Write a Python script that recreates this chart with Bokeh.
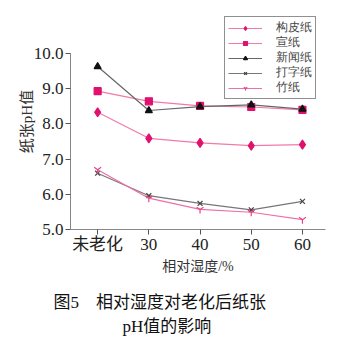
from bokeh.plotting import figure
from bokeh.models import Range1d, Legend, LegendItem, Title, FixedTicker, CustomJSTickFormatter
from bokeh.embed import file_html
from bokeh.resources import INLINE

categories = ["未老化", "30", "40", "50", "60"]
series_names = ["构皮纸", "宣纸", "新闻纸", "打字纸", "竹纸"]
gou_pi = [8.33, 7.59, 7.46, 7.38, 7.41]
xuan = [8.93, 8.64, 8.51, 8.48, 8.40]
xin_wen = [9.63, 8.38, 8.49, 8.54, 8.42]
da_zi = [6.60, 5.96, 5.74, 5.56, 5.80]
zhu = [6.70, 5.89, 5.57, 5.49, 5.28]
y_ticks = [5.0, 6.0, 7.0, 8.0, 9.0, 10.0]

xs = list(range(len(categories)))

# frame: top 13px, bottom 229px; 5.0 .. 10.0 spans 229 -> 53 px
y_top = 5.0 + (229 - 13) / ((229 - 53) / 5.0)

p = figure(width=355, height=347, output_backend="svg", toolbar_location=None,
           x_range=Range1d(-0.53, 4.45), y_range=Range1d(5.0, y_top),
           min_border_left=70, min_border_right=30, min_border_top=13,
           min_border_bottom=118, background_fill_color="white",
           border_fill_color="white", outline_line_color=None)
p.grid.visible = False

styles = [
    (gou_pi, "diamond", "#e0126e", "#f07aaa", 9),
    (xuan, "square", "#e0126e", "#f07aaa", 7),
    (xin_wen, "triangle", "#111111", "#666666", 7),
    (da_zi, "x", "#444444", "#777777", 7),
    (zhu, "y", "#e8408a", "#ee70a8", 8),
]
items = []
for name, (vals, mk, mc, lc, sz) in zip(series_names, styles):
    r1 = p.line(xs, vals, line_color=lc, line_width=1.2)
    r2 = p.scatter(xs, vals, marker=mk, size=sz, fill_color=mc, line_color=mc, line_width=1.2)
    items.append(LegendItem(label=name, renderers=[r1, r2]))

legend = Legend(items=items, location=(154, 130), border_line_color="#222222",
                border_line_width=1.5, background_fill_color="white",
                label_text_font="Liberation Serif", label_text_font_size="11.5px",
                glyph_width=34, glyph_height=10, label_height=10, spacing=0, padding=3,
                margin=0, label_standoff=14, label_text_line_height=1.0)
p.add_layout(legend, "center")

p.xaxis.ticker = FixedTicker(ticks=xs)
p.xaxis.formatter = CustomJSTickFormatter(args=dict(labels=categories),
                                          code="return labels[Math.round(tick)] || '';")
p.yaxis.ticker = FixedTicker(ticks=y_ticks)
p.yaxis.formatter = CustomJSTickFormatter(code="return tick.toFixed(1);")
p.yaxis.bounds = (5.0, 10.0)

for ax in (p.xaxis[0], p.yaxis[0]):
    ax.axis_line_color = "#888888"
    ax.major_tick_line_color = "#555555"
    ax.minor_tick_line_color = None
    ax.major_tick_out = 5
    ax.major_tick_in = 0
    ax.major_label_text_font = "Liberation Serif, Noto Sans CJK SC"
    ax.major_label_text_font_size = "17px"
    ax.major_label_text_color = "#222222"
    ax.axis_label_text_font = "Liberation Serif, Noto Sans CJK SC"
    ax.axis_label_text_font_style = "normal"
    ax.axis_label_text_color = "#333333"

p.yaxis.axis_label = "纸张pH值"
p.yaxis.axis_label_text_font_size = "15px"
p.yaxis.axis_label_standoff = -4
p.yaxis.major_label_standoff = 2
p.xaxis.axis_label = "相对湿度/%"
p.xaxis.axis_label_text_font_size = "14px"
p.xaxis.axis_label_standoff = 2
p.xaxis.major_label_standoff = 0

cap_font = "Liberation Serif, Noto Sans CJK SC"
spacer = Title(text=" ", text_font_size="1px", standoff=10)
t1 = Title(text="图5　相对湿度对老化后纸张", align="left", offset=-17,
           text_font=cap_font, text_font_size="17px",
           text_font_style="normal", text_color="#111111", standoff=3)
t2 = Title(text="pH值的影响", align="left", offset=52,
           text_font=cap_font, text_font_size="17px",
           text_font_style="normal", text_color="#111111", standoff=3)
p.add_layout(spacer, "below")
p.add_layout(t1, "below")
p.add_layout(t2, "below")

open("out.html", "w").write(file_html(p, INLINE))
